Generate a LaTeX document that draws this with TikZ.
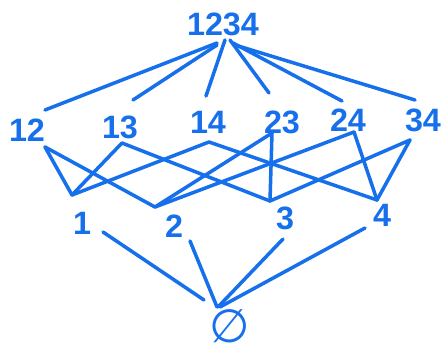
\documentclass[tikz,border=0pt]{standalone}
\usepackage{fontspec}
\setmainfont{Liberation Sans}
\newfontfamily\symbfont{DejaVu Sans}
\definecolor{pen}{RGB}{22,112,235}
\tikzset{
  setlabel/.style={text=pen, inner sep=0pt, font=\fontsize{23}{26}\selectfont\bfseries},
  edge/.style={draw=pen, line width=2.5pt, line cap=round},
}
\begin{document}
\begin{tikzpicture}[x=0.025cm, y=-0.025cm]
  \useasboundingbox (0,0) rectangle (441,356);
  \node[setlabel] (s1234) at (223,24) {1234};
  \node[setlabel] (s12) at (27,130) {12};
  \node[setlabel] (s13) at (120,127) {13};
  \node[setlabel] (s14) at (208,122) {14};
  \node[setlabel] (s23) at (282,122) {23};
  \node[setlabel] (s24) at (348,120) {24};
  \node[setlabel] (s34) at (423,120) {34};
  \node[setlabel] (s1) at (82,223) {1};
  \node[setlabel] (s2) at (174,226) {2};
  \node[setlabel] (s3) at (285,218) {3};
  \node[setlabel] (s4) at (382,215) {4};
  \node[setlabel, font=\fontsize{33}{36}\selectfont\symbfont] (s0) at (230,326) {∅};
  % ends of the strokes
  \coordinate (a12) at (217,43);
  \coordinate (a13) at (217,45);
  \coordinate (a14) at (225,40);
  \coordinate (a23) at (230,40);
  \coordinate (a24) at (233,43);
  \coordinate (a34) at (235,45);
  \coordinate (b12) at (45,110);
  \coordinate (b13) at (133,100);
  \coordinate (b14) at (206,96);
  \coordinate (b23) at (269,93);
  \coordinate (b24) at (342,101);
  \coordinate (b34) at (415,100);
  \coordinate (v12) at (45,147);
  \coordinate (v13) at (122,143);
  \coordinate (v14) at (209,142);
  \coordinate (v23) at (272,133);
  \coordinate (v24) at (354,132);
  \coordinate (v34) at (410,140);
  \coordinate (u1) at (72,195);
  \coordinate (u2) at (155,207);
  \coordinate (u3) at (270,201);
  \coordinate (u4) at (377,200);
  \coordinate (d1) at (103,232);
  \coordinate (d2) at (190,241);
  \coordinate (d3) at (283,239);
  \coordinate (d4) at (365,228);
  \coordinate (e1) at (204,300);
  \coordinate (e2) at (217,307);
  \coordinate (e3) at (218,307);
  \coordinate (e4) at (220,307);
  % top to pairs
  \draw[edge] (a12) -- (b12);
  \draw[edge] (a13) -- (b13);
  \draw[edge] (a14) -- (b14);
  \draw[edge] (a23) -- (b23);
  \draw[edge] (a24) -- (b24);
  \draw[edge] (a34) -- (b34);
  % pairs to singletons
  \draw[edge] (v12) -- (u1);
  \draw[edge] (v12) -- (u2);
  \draw[edge] (v13) -- (u1);
  \draw[edge] (v13) -- (u3);
  \draw[edge] (v14) -- (u1);
  \draw[edge] (v14) -- (u4);
  \draw[edge] (v23) -- (u2);
  \draw[edge] (v23) -- (u3);
  \draw[edge] (v24) -- (u2);
  \draw[edge] (v24) -- (u4);
  \draw[edge] (v34) -- (u3);
  \draw[edge] (v34) -- (u4);
  % singletons to empty set
  \draw[edge] (d1) -- (e1);
  \draw[edge] (d2) -- (e2);
  \draw[edge] (d3) -- (e3);
  \draw[edge] (d4) -- (e4);
\end{tikzpicture}
\end{document}
